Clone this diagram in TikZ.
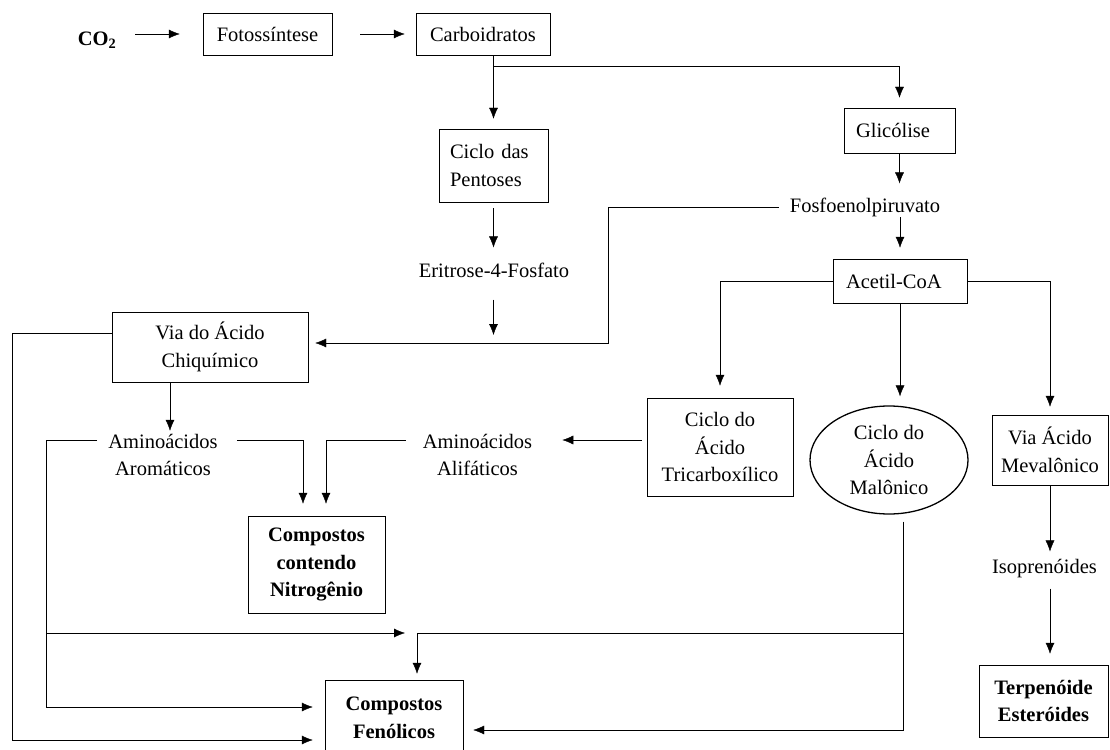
\documentclass[tikz,border=0pt]{standalone}
\usepackage{fontspec}
\setmainfont{Liberation Serif}
\usetikzlibrary{shapes,arrows.meta}
\tikzset{
    -{Latex[length=11pt,width=9pt]},line width=1.8pt,
    every node/.style={font=\fontsize{20.5}{27.5}\selectfont},
    box/.style ={rectangle, draw, align=center, inner sep=0pt},
    boxl/.style ={rectangle, draw, align=left, inner ysep=0pt},
    oval/.style ={ellipse, draw, align=center, inner sep=0pt, line width=1.3pt},
    txt/.style = {align=center, inner sep=3pt},
    bold/.style = {font=\fontsize{20.5}{27.5}\selectfont\bfseries}
}
\begin{document}
\begin{tikzpicture}[x=1pt,y=-1pt]
    \useasboundingbox (0,0) rectangle (1110,749);
    \node[txt,bold] (1) at (97,40) {CO\textsubscript{2}};
    \node[box, minimum width=129, minimum height=42] (2) at (267.5,34) {Fotossíntese};
    \node[box, minimum width=134, minimum height=42] (3) at (483,34) {Carboidratos};
    \node[boxl, text width=87pt, inner xsep=11pt, minimum height=73] (4) at (493.5,165.5) {Ciclo das\\Pentoses};
    \node[boxl, text width=87pt, inner xsep=12pt, minimum height=45] (5) at (899.5,130.5) {Glicólise};
    \node[txt] (6) at (494,270) {Eritrose-4-Fosfato};
    \node[txt] (7) at (865,207) {Fosfoenolpiruvato};
    \node[box, minimum width=196, minimum height=70] (8) at (210,347) {Via do Ácido\\Chiquímico};
    \node[boxl, text width=108pt, inner xsep=13pt, minimum height=44] (9) at (900,281) {Acetil-CoA};
    \node[box, minimum width=146, minimum height=98] (10) at (720,447) {Ciclo do\\Ácido\\Tricarboxílico};
    \node[oval, minimum width=158, minimum height=108] (11) at (889,460) {Ciclo do\\Ácido\\Malônico};
    \node[box, minimum width=116, minimum height=70] (12) at (1050,450) {Via Ácido\\Mevalônico};
    \node[txt] (13) at (1044.5,569) {Isoprenóides};
    \node[box,bold, minimum width=129, minimum height=72] (14) at (1043.5,701) {Terpenóide\\Esteróides};
    \node[txt] (15) at (163,455) {Aminoácidos\\Aromáticos};
    \node[txt] (16) at (477.5,455) {Aminoácidos\\Alifáticos};
    \node[box,bold, minimum width=137, minimum height=97] (17) at (316.5,564.5) {Compostos\\contendo\\Nitrogênio};
    \node[box,bold, minimum width=138, minimum height=76] (18) at (394,718) {Compostos\\Fenólicos};

    \coordinate (c1) at (493.5,66);
    \coordinate (c2) at (608,343);
    \coordinate (r1) at ([yshift=7pt]10.west);
    \coordinate (c4) at (46,707);
    \coordinate (c5) at (405,633);
    \coordinate (c6) at (12,740);
    \coordinate (c7) at ([xshift=-40pt]8.south);
    \coordinate (c8) at (903,730);

    \draw[shorten <=16pt, shorten >=23pt] (1.east |- 2) -- (2.west);
    \path (2) edge[shorten <=28pt, shorten >=11pt] (3);
    \draw[shorten >=10pt] (3.south -| 4) -- (4);
    \draw[shorten >=10pt] (c1) -| (5);
    \draw[shorten <=6pt, shorten >=12pt] (4) -- (4 |- 6.north);
    \draw[shorten <=19pt, shorten >=8pt] (4 |- 6.south) -- (4 |- c2);
    \draw[shorten <=8pt, shorten >=7pt] (7.west) -| (c2) -- (c2 -| 8.east);
    \draw[shorten >=11pt] (5) -- (5 |- 7.north);
    \draw[shorten <=10pt, shorten >=11pt] (9 |- 7) -- (9);
    \draw[shorten >=12pt] (9) -| (10);
    \draw[shorten >=9pt] (9) -- (9 |- 11.north);
    \draw[shorten >=8pt] (9) -| (12);
    \draw[shorten >=5pt] (12) -- (12 |- 13.north);
    \draw[shorten <=7pt, shorten >=11pt] (12 |- 13.south) -- (12 |- 14.north);
    \draw[shorten <=5pt, shorten >=27pt] (r1) -- (r1 -| 16.east);
    \draw[shorten <=16pt, shorten >=12pt] (15.east |- r1) -| ([xshift=-13.5pt]17.north);
    \draw[shorten <=14pt, shorten >=12pt] (16.west |- r1) -| ([xshift=9.5pt]17.north);
    \draw[shorten <=8pt, shorten >=12pt] (15.west |- r1) -| (c4) -- (c4 -| 18.west);
    \draw (c4 |- c5) -- (c5);
    \draw[shorten >=12pt] ([yshift=14pt]8.west) -| (c6) -- (c6 -| 18.west);
    \draw (c7) -- (c7 |- 15.north);
    \draw[shorten <=7pt, shorten >=10pt] (11.south -| c8) -- (c8) -- (c8 -| 18.east);
    \draw[shorten >=6pt] (c8 |- c5) -| ([xshift=23pt]18.north);
\end{tikzpicture}
\end{document}
